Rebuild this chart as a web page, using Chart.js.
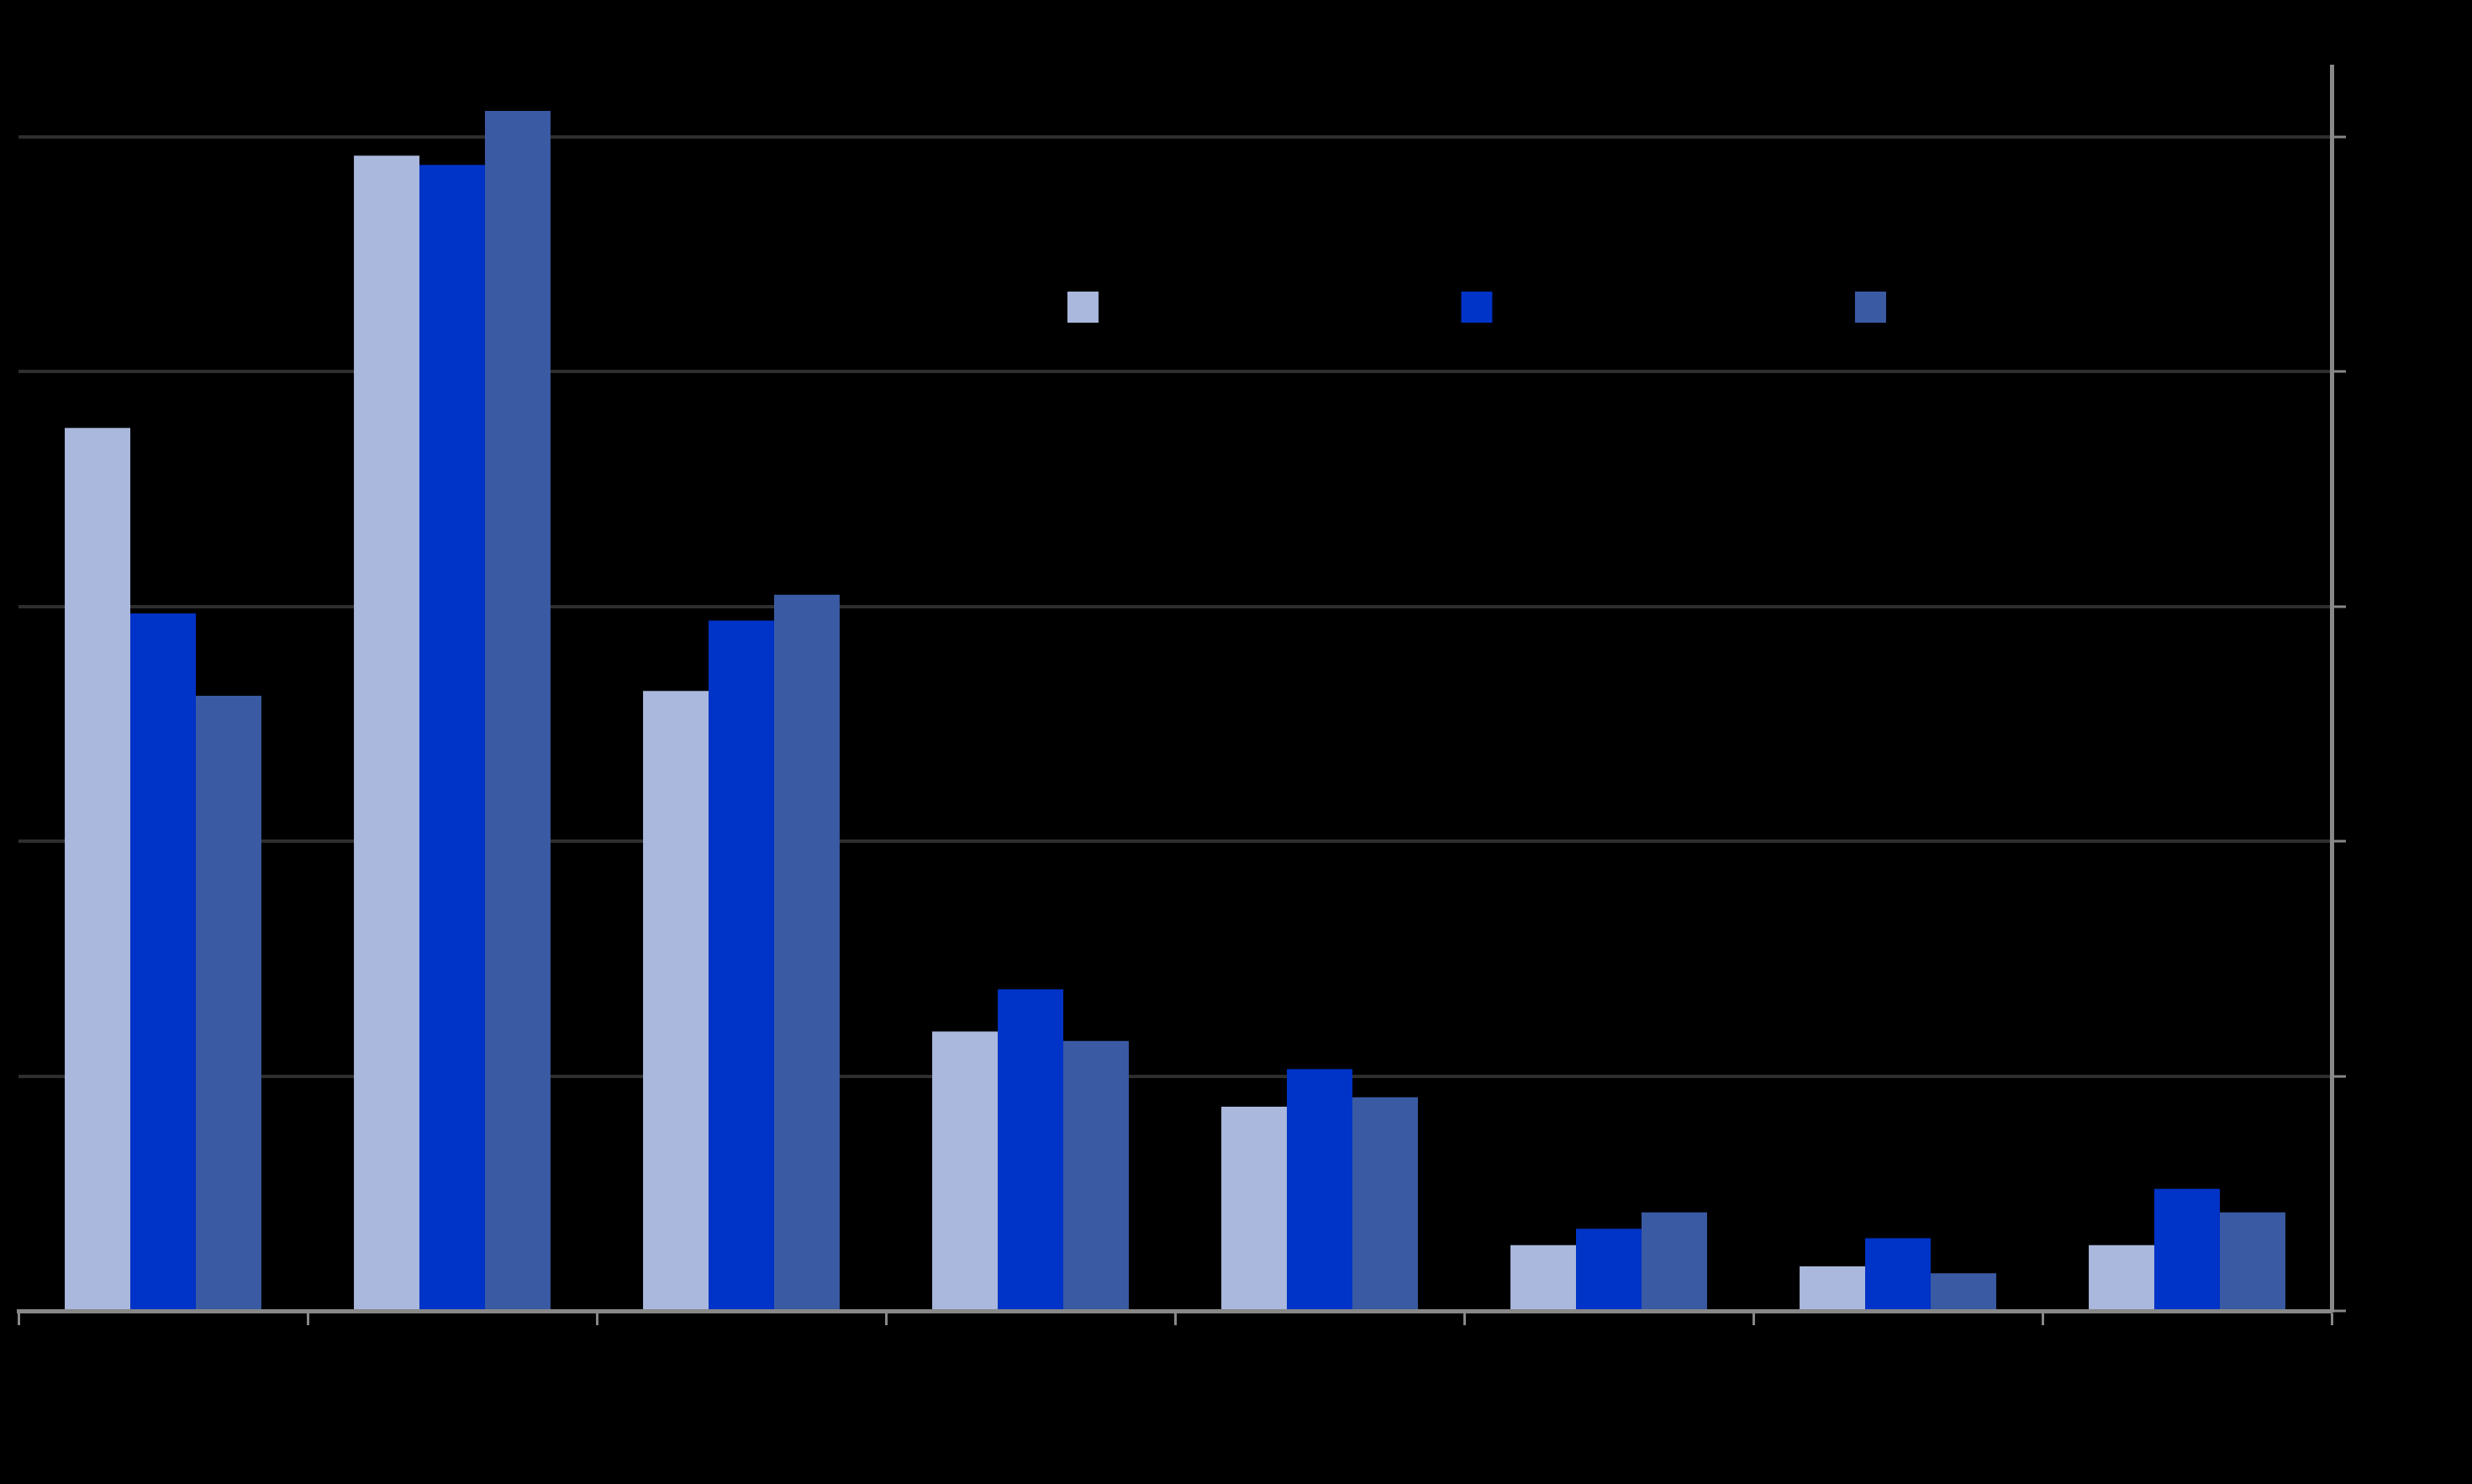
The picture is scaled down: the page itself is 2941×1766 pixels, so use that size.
<!DOCTYPE html>
<html>
<head>
<meta charset="utf-8">
<script src="https://cdn.jsdelivr.net/npm/chart.js@4"></script>
<style>
  html, body { margin: 0; padding: 0; background: #000; }
  #chart { display: block; }
</style>
</head>
<body>
<canvas id="chart" width="2941" height="1766"></canvas>
<script>
const categories = ["Category 1", "Category 2", "Category 3", "Category 4",
  "Category 5", "Category 6", "Category 7", "Category 8"];

const seriesNames = ["Series A", "Series B", "Series C"];
const seriesA = [37.6, 49.2, 26.4, 11.9, 8.7, 2.8, 1.9, 2.8];
const seriesB = [29.7, 48.8, 29.4, 13.7, 10.3, 3.5, 3.1, 5.2];
const seriesC = [26.2, 51.1, 30.5, 11.5, 9.1, 4.2, 1.6, 4.2];

const colors = ["#a9b8dc", "#0033c7", "#3a5ba3"];

const yMax = 53;
const yStep = 10;

// legend drawn by hand: boxes sit up in the plot, not centred
const legendPlugin = {
  id: "boxLegend",
  afterDraw(chart) {
    const ctx = chart.ctx;
    const size = 37;
    const startX = chart.width * 0.4318;
    const gap = chart.width * 0.1593;
    const y = 347;
    ctx.save();
    ctx.font = "28px 'Noto Sans'";
    ctx.textBaseline = "middle";
    chart.data.datasets.forEach((ds, i) => {
      const x = startX + i * gap;
      ctx.fillStyle = ds.backgroundColor;
      ctx.fillRect(x, y, size, size);
      ctx.fillStyle = "#000";
      ctx.fillText(ds.label, x + size + 14, y + size / 2);
    });
    ctx.restore();
  },
};

new Chart(document.getElementById("chart"), {
  type: "bar",
  data: {
    labels: categories,
    datasets: [seriesA, seriesB, seriesC].map((vals, i) => ({
      label: seriesNames[i],
      data: vals,
      backgroundColor: colors[i],
      borderWidth: 0,
      categoryPercentage: 0.68,
      barPercentage: 1.0,
    })),
  },
  options: {
    responsive: false,
    animation: false,
    layout: { padding: { left: 22, right: 150, top: 79, bottom: 189 } },
    plugins: {
      legend: { display: false },
      tooltip: { enabled: false },
    },
    scales: {
      x: {
        position: "bottom",
        grid: {
          offset: true,
          drawOnChartArea: false,
          drawTicks: true,
          tickLength: 17,
          tickColor: "#888888",
          tickWidth: 3,
        },
        border: { display: true, color: "#888888", width: 5 },
        ticks: { display: false },
      },
      y: {
        position: "right",
        min: 0,
        max: yMax,
        ticks: { display: false, stepSize: yStep },
        grid: {
          color: (c) => (c.tick && c.tick.value === 0 ? "#888888" : "#2e2e2e"),
          lineWidth: (c) => (c.tick && c.tick.value === yMax ? 0 : 4),
          drawTicks: true,
          tickLength: 17,
          tickColor: (c) => (c.tick && c.tick.value === yMax ? "rgba(0,0,0,0)" : "#888888"),
          tickWidth: 3,
        },
        border: { display: true, color: "#888888", width: 5 },
      },
    },
  },
  plugins: [legendPlugin],
});
</script>
</body>
</html>
